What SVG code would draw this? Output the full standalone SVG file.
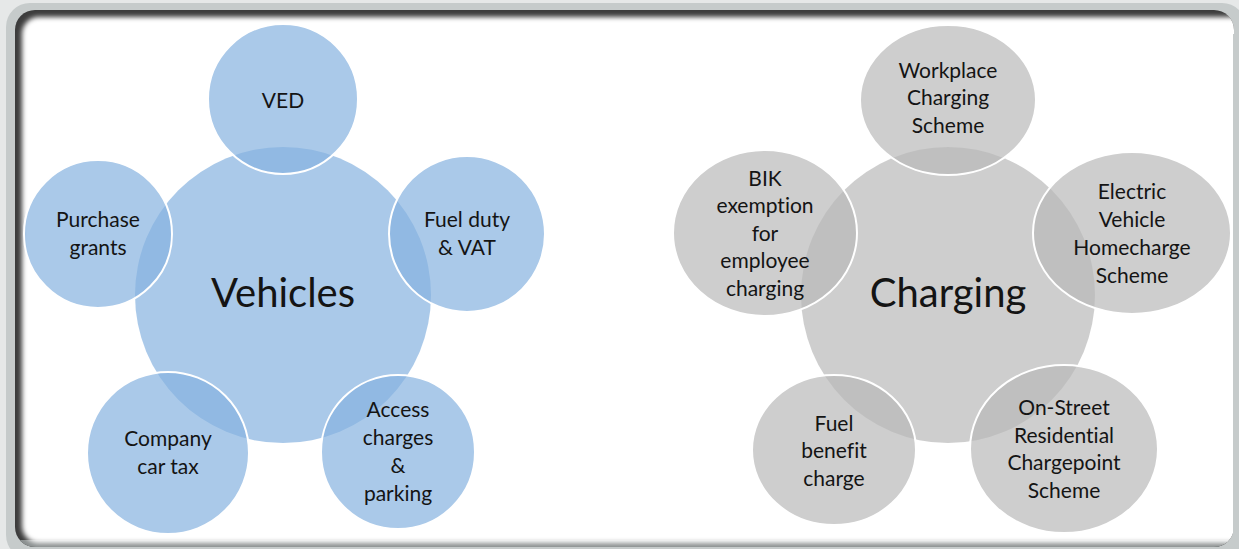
<svg xmlns="http://www.w3.org/2000/svg" width="1239" height="549" viewBox="0 0 1239 549">
  <defs>
    <style>
      .blue { fill: #86b2e0; fill-opacity: 0.7; stroke: #ffffff; stroke-width: 2; }
      .blueC { fill: #86b2e0; fill-opacity: 0.7; stroke: none; }
      .gray { fill: #b9b9b9; fill-opacity: 0.7; stroke: #ffffff; stroke-width: 2; }
      .grayC { fill: #b9b9b9; fill-opacity: 0.7; stroke: none; }
      text { font-family: Lato, "Liberation Sans", sans-serif; fill: #141414; text-anchor: middle; font-variant-ligatures: none; }
      .s { font-size: 21px; }
      .b { font-size: 40px; }
    </style>
    <clipPath id="panelClip">
      <rect x="15" y="10" width="1219" height="537" rx="20"/>
    </clipPath>
    <filter id="soft" x="-5%" y="-5%" width="110%" height="110%">
      <feGaussianBlur stdDeviation="2.5"/>
    </filter>
  </defs>

  <!-- frame -->
  <rect x="0" y="0" width="1239" height="549" fill="#e6e8e8"/>
  <rect x="6" y="3" width="1240" height="556" rx="24" fill="#c6cbcb"/>
  <g clip-path="url(#panelClip)">
    <rect x="15" y="10" width="1219" height="537" fill="#3c3c3c"/>
    <rect x="15" y="540" width="1219" height="7" fill="#8a8f8f"/>
    <rect x="22" y="17" width="1230" height="526" rx="17" fill="#ffffff" filter="url(#soft)"/>
  </g>
  <rect x="1233" y="34" width="6" height="500" fill="#c6cbcb"/>

  <!-- Vehicles cluster -->
  <g id="vehicles">
    <circle class="blueC" cx="283" cy="295" r="148"/>
    <text class="b" x="283" y="307">Vehicles</text>
  </g>
  <g id="ved">
    <circle class="blue" cx="283" cy="99" r="75"/>
    <text class="s" x="283" y="108">VED</text>
  </g>
  <g id="purchase-grants">
    <circle class="blue" cx="98" cy="234" r="74"/>
    <text class="s" x="98" y="227">Purchase</text>
    <text class="s" x="98" y="255">grants</text>
  </g>
  <g id="fuel-duty">
    <circle class="blue" cx="467" cy="234" r="78"/>
    <text class="s" x="467" y="227">Fuel duty</text>
    <text class="s" x="467" y="255">&amp; VAT</text>
  </g>
  <g id="company-car-tax">
    <circle class="blue" cx="168" cy="453" r="81"/>
    <text class="s" x="168" y="446">Company</text>
    <text class="s" x="168" y="474">car tax</text>
  </g>
  <g id="access-charges">
    <circle class="blue" cx="398" cy="452" r="77"/>
    <text class="s" x="398" y="417">Access</text>
    <text class="s" x="398" y="445">charges</text>
    <text class="s" x="398" y="473">&amp;</text>
    <text class="s" x="398" y="501">parking</text>
  </g>

  <!-- Charging cluster -->
  <g id="charging">
    <ellipse class="grayC" cx="948" cy="295" rx="147" ry="148"/>
    <text class="b" x="948" y="307">Charging</text>
  </g>
  <g id="workplace">
    <ellipse class="gray" cx="948" cy="100" rx="88" ry="75"/>
    <text class="s" x="948" y="78">Workplace</text>
    <text class="s" x="948" y="105">Charging</text>
    <text class="s" x="948" y="133">Scheme</text>
  </g>
  <g id="bik">
    <ellipse class="gray" cx="765" cy="233" rx="92" ry="83"/>
    <text class="s" x="765" y="186">BIK</text>
    <text class="s" x="765" y="213">exemption</text>
    <text class="s" x="765" y="241">for</text>
    <text class="s" x="765" y="268">employee</text>
    <text class="s" x="765" y="296">charging</text>
  </g>
  <g id="homecharge">
    <ellipse class="gray" cx="1132" cy="233" rx="99" ry="81"/>
    <text class="s" x="1132" y="199">Electric</text>
    <text class="s" x="1132" y="227">Vehicle</text>
    <text class="s" x="1132" y="255">Homecharge</text>
    <text class="s" x="1132" y="283">Scheme</text>
  </g>
  <g id="fuel-benefit">
    <ellipse class="gray" cx="834" cy="450" rx="82" ry="75"/>
    <text class="s" x="834" y="431">Fuel</text>
    <text class="s" x="834" y="458">benefit</text>
    <text class="s" x="834" y="486">charge</text>
  </g>
  <g id="on-street">
    <ellipse class="gray" cx="1064" cy="449" rx="94" ry="84"/>
    <text class="s" x="1064" y="415">On-Street</text>
    <text class="s" x="1064" y="443">Residential</text>
    <text class="s" x="1064" y="470">Chargepoint</text>
    <text class="s" x="1064" y="498">Scheme</text>
  </g>

  <g id="connectors"></g>
</svg>
